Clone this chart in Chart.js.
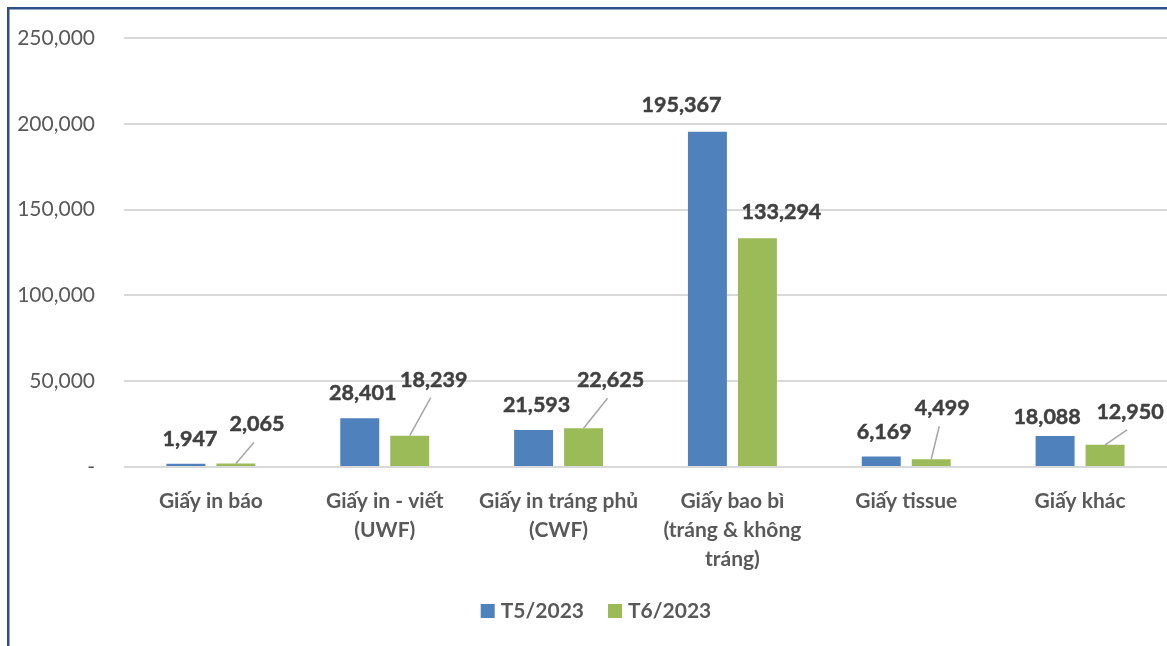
<!DOCTYPE html>
<html>
<head>
<meta charset="utf-8">
<script src="https://cdn.jsdelivr.net/npm/chart.js@4.4.1/dist/chart.umd.min.js"></script>
<style>
  html, body { margin: 0; padding: 0; background: #ffffff; }
  #wrap { position: relative; width: 1167px; height: 646px; overflow: hidden; }
  canvas { position: absolute; left: 0; top: 0; }
</style>
</head>
<body>
<div id="wrap"><canvas id="c" width="1167" height="646"></canvas></div>
<script>
// ---- data ----
const categories = [
  ['Giấy in báo'],
  ['Giấy in - viết', '(UWF)'],
  ['Giấy in tráng phủ', '(CWF)'],
  ['Giấy bao bì', '(tráng & không', 'tráng)'],
  ['Giấy tissue'],
  ['Giấy khác']
];
const seriesNames = ['T5/2023', 'T6/2023'];
const valuesT5 = [1947, 28401, 21593, 195367, 6169, 18088];
const valuesT6 = [2065, 18239, 22625, 133294, 4499, 12950];
const yTicks = [0, 50000, 100000, 150000, 200000, 250000];

// ---- label placement (offsets from bar top centre, in px) ----
const labelOffsetsT5 = [[4, -25], [3, -25], [3, -25], [-26, -27], [3, -24], [-8, -19]];
const labelOffsetsT6 = [[21, -39], [24, -56], [27, -48], [24, -26], [11, -51], [25, -33]];
const leaderT6 = [true, true, true, false, true, true];

const colors = ['#4F81BD', '#9BBB59'];
const FONT = 'Lato, "Open Sans", sans-serif';

const fmt = v => v.toLocaleString('en-US');

const frame = {
  id: 'frame',
  beforeDraw(chart) {
    const ctx = chart.ctx;
    ctx.save();
    ctx.fillStyle = '#ffffff';
    ctx.fillRect(0, 0, chart.width, chart.height);
    ctx.fillStyle = '#2C5088';
    ctx.fillRect(7, 7, chart.width, 2.5);
    ctx.fillRect(7, 7, 2.5, chart.height);
    ctx.restore();
  }
};

const dataLabels = {
  id: 'dataLabels',
  afterDatasetsDraw(chart) {
    const ctx = chart.ctx;
    ctx.save();
    ctx.font = 'bold 21.5px ' + FONT;
    ctx.textAlign = 'center';
    ctx.textBaseline = 'middle';
    chart.data.datasets.forEach((ds, di) => {
      const meta = chart.getDatasetMeta(di);
      const offs = di === 0 ? labelOffsetsT5 : labelOffsetsT6;
      meta.data.forEach((bar, i) => {
        const [dx, dy] = offs[i];
        const lx = bar.x + dx, ly = bar.y + dy;
        if (di === 1 && leaderT6[i]) {
          ctx.strokeStyle = '#A6A6A6';
          ctx.lineWidth = 1.5;
          ctx.beginPath();
          ctx.moveTo(bar.x, bar.y);
          ctx.lineTo(lx - 3, ly + 18);
          ctx.stroke();
        }
        ctx.fillStyle = '#404040';
        ctx.strokeStyle = '#404040';
        ctx.lineWidth = 0.5;
        ctx.strokeText(fmt(ds.data[i]), lx, ly);
        ctx.fillText(fmt(ds.data[i]), lx, ly);
      });
    });
    ctx.restore();
  }
};

const customLegend = {
  id: 'customLegend',
  afterDraw(chart) {
    const ctx = chart.ctx;
    ctx.save();
    ctx.font = 'bold 21px ' + FONT;
    ctx.textBaseline = 'middle';
    ctx.textAlign = 'left';
    const box = 14, gapText = 6, gapItem = 24;
    const items = chart.data.datasets.map(d => ({ t: d.label, c: d.backgroundColor, w: ctx.measureText(d.label).width }));
    let total = 0;
    items.forEach((it, k) => { total += box + gapText + it.w + (k < items.length - 1 ? gapItem : 0); });
    let x = 596 - total / 2;
    const cy = 611;
    items.forEach(it => {
      ctx.fillStyle = it.c;
      ctx.fillRect(x, cy - 7, box, box);
      x += box + gapText;
      ctx.fillStyle = '#595959';
      ctx.fillText(it.t, x, cy);
      x += it.w + gapItem;
    });
    ctx.restore();
  }
};

new Chart(document.getElementById('c'), {
  type: 'bar',
  data: {
    labels: categories,
    datasets: [
      { label: seriesNames[0], data: valuesT5, backgroundColor: colors[0], borderWidth: 0 },
      { label: seriesNames[1], data: valuesT6, backgroundColor: colors[1], borderWidth: 0 }
    ]
  },
  options: {
    responsive: false,
    animation: false,
    events: [],
    categoryPercentage: 0.575,
    barPercentage: 0.78,
    layout: { padding: { top: 38, right: 0, left: 0, bottom: 0 } },
    plugins: {
      legend: { display: false },
      tooltip: { enabled: false },
      title: { display: false }
    },
    scales: {
      x: {
        grid: { display: false, drawTicks: false },
        border: { display: false },
        ticks: {
          color: '#595959',
          font: { family: FONT, size: 21, weight: 'bold', lineHeight: 1.38 },
          padding: 20,
          maxRotation: 0,
          autoSkip: false
        },
        afterFit(scale) { scale.height = 646 - 467; scale.paddingTop = 0; scale.paddingBottom = 0; }
      },
      y: {
        min: 0,
        max: 250000,
        afterBuildTicks(scale) { scale.ticks = yTicks.map(v => ({ value: v })); },
        grid: { color: '#D9D9D9', lineWidth: 2, drawTicks: false },
        border: { display: false },
        ticks: {
          color: '#595959',
          font: { family: FONT, size: 21 },
          padding: 29,
          callback: v => v === 0 ? '-' : fmt(v)
        },
        afterFit(scale) { scale.width = 124; scale.paddingTop = 0; scale.paddingBottom = 0; }
      }
    }
  },
  plugins: [frame, dataLabels, customLegend]
});
</script>
</body>
</html>
